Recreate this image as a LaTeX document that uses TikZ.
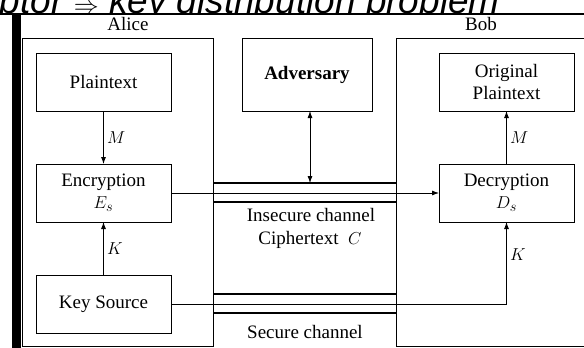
\documentclass[tikz,border=0pt]{standalone}
\usepackage{fontspec}
\setmainfont{Liberation Serif}
\newfontfamily\slidefont{Liberation Sans}
\usetikzlibrary{arrows.meta}
\usetikzlibrary{positioning}

\newcommand{\diagramsize}{\fontsize{19}{22}\selectfont}

\tikzset{
	block/.style={draw, line width=0.8pt, minimum width=135pt, minimum height=58pt,
		inner sep=0pt, outer sep=0pt, align=center, font=\diagramsize},
	party/.style={draw, line width=0.8pt, inner sep=0pt, outer sep=0pt},
	caption/.style={font=\diagramsize},
	pipe/.style={line width=2.4pt},
	flow/.style={line width=0.8pt, -{Latex[length=7pt,width=5pt]}},
}

\begin{document}
\begin{tikzpicture}[x=1pt, y=-1pt]
	\clip (0,0) rectangle (584,348);
	% slide heading, cut off by the crop
	\begin{scope}
	\clip (0,0) rectangle (584,14);
	\node[anchor=base east, inner sep=0pt, font=\slidefont\itshape\fontsize{37}{40}\selectfont] (heading) at (500,13) {decryptor $\Rightarrow$ key distribution problem};
	\end{scope}
	\draw[line width=1.5pt] (0,14) -- (584,14);
	\fill (11.5,14) rectangle (20.5,348);
	
	\node[party, minimum width=190.8pt, minimum height=308pt] (alice) at (117.9,192) {};
	\node[party, minimum width=204pt, minimum height=308pt] (bob) at (498,192) {};
	\node[caption] (aliceName) at (128,24) {Alice};
	\node[caption] (bobName) at (481,24) {Bob};
	
	\node[block, minimum width=130pt, minimum height=73pt, font=\diagramsize\bfseries] (adversary) at (307,74.5) {Adversary};
	
	\node[block] (plaintext) at (103.5,82) {Plaintext};
	\node[block] (encryption) [below=53pt of plaintext] {Encryption\\$E_s$};
	\node[block] (keysource) [below=53pt of encryption] {Key Source};
	\node[block] (original) [right=268pt of plaintext] {Original\\Plaintext};
	\node[block] (decryption) [below=53pt of original] {Decryption\\$D_s$};
	
	% channels
	\coordinate (insTop) at (0,183);
	\coordinate (insBottom) at (0,202);
	\coordinate (secTop) at (0,294);
	\coordinate (secBottom) at (0,313);
	\foreach \c in {insTop, insBottom, secTop, secBottom}{%
	\draw[pipe] (alice.east |- \c) -- (bob.west |- \c);
	}
	\node[caption] (insecureLabel) at (311,215) {Insecure channel};
	\node[caption] (cipherLabel) at (310,240) {Ciphertext~~$C$};
	\node[caption] (secureLabel) at (305,332) {Secure channel};
	
	\draw[flow] (plaintext) -- node[right, caption] {$M$} (encryption);
	\draw[flow] (keysource) -- node[right, caption] {$K$} (encryption);
	\draw[flow] (encryption) -- (decryption);
	\draw[flow] (decryption) -- node[right, caption] {$M$} (original);
	\draw[flow] (keysource) -| node[right, caption, pos=0.8] {$K$} (decryption);
	\draw[flow, {Latex[length=7pt,width=5pt]}-{Latex[length=7pt,width=5pt]}] ([xshift=3pt]adversary.south) -- ([xshift=3pt]adversary.south |- insTop);
\end{tikzpicture}
\end{document}
